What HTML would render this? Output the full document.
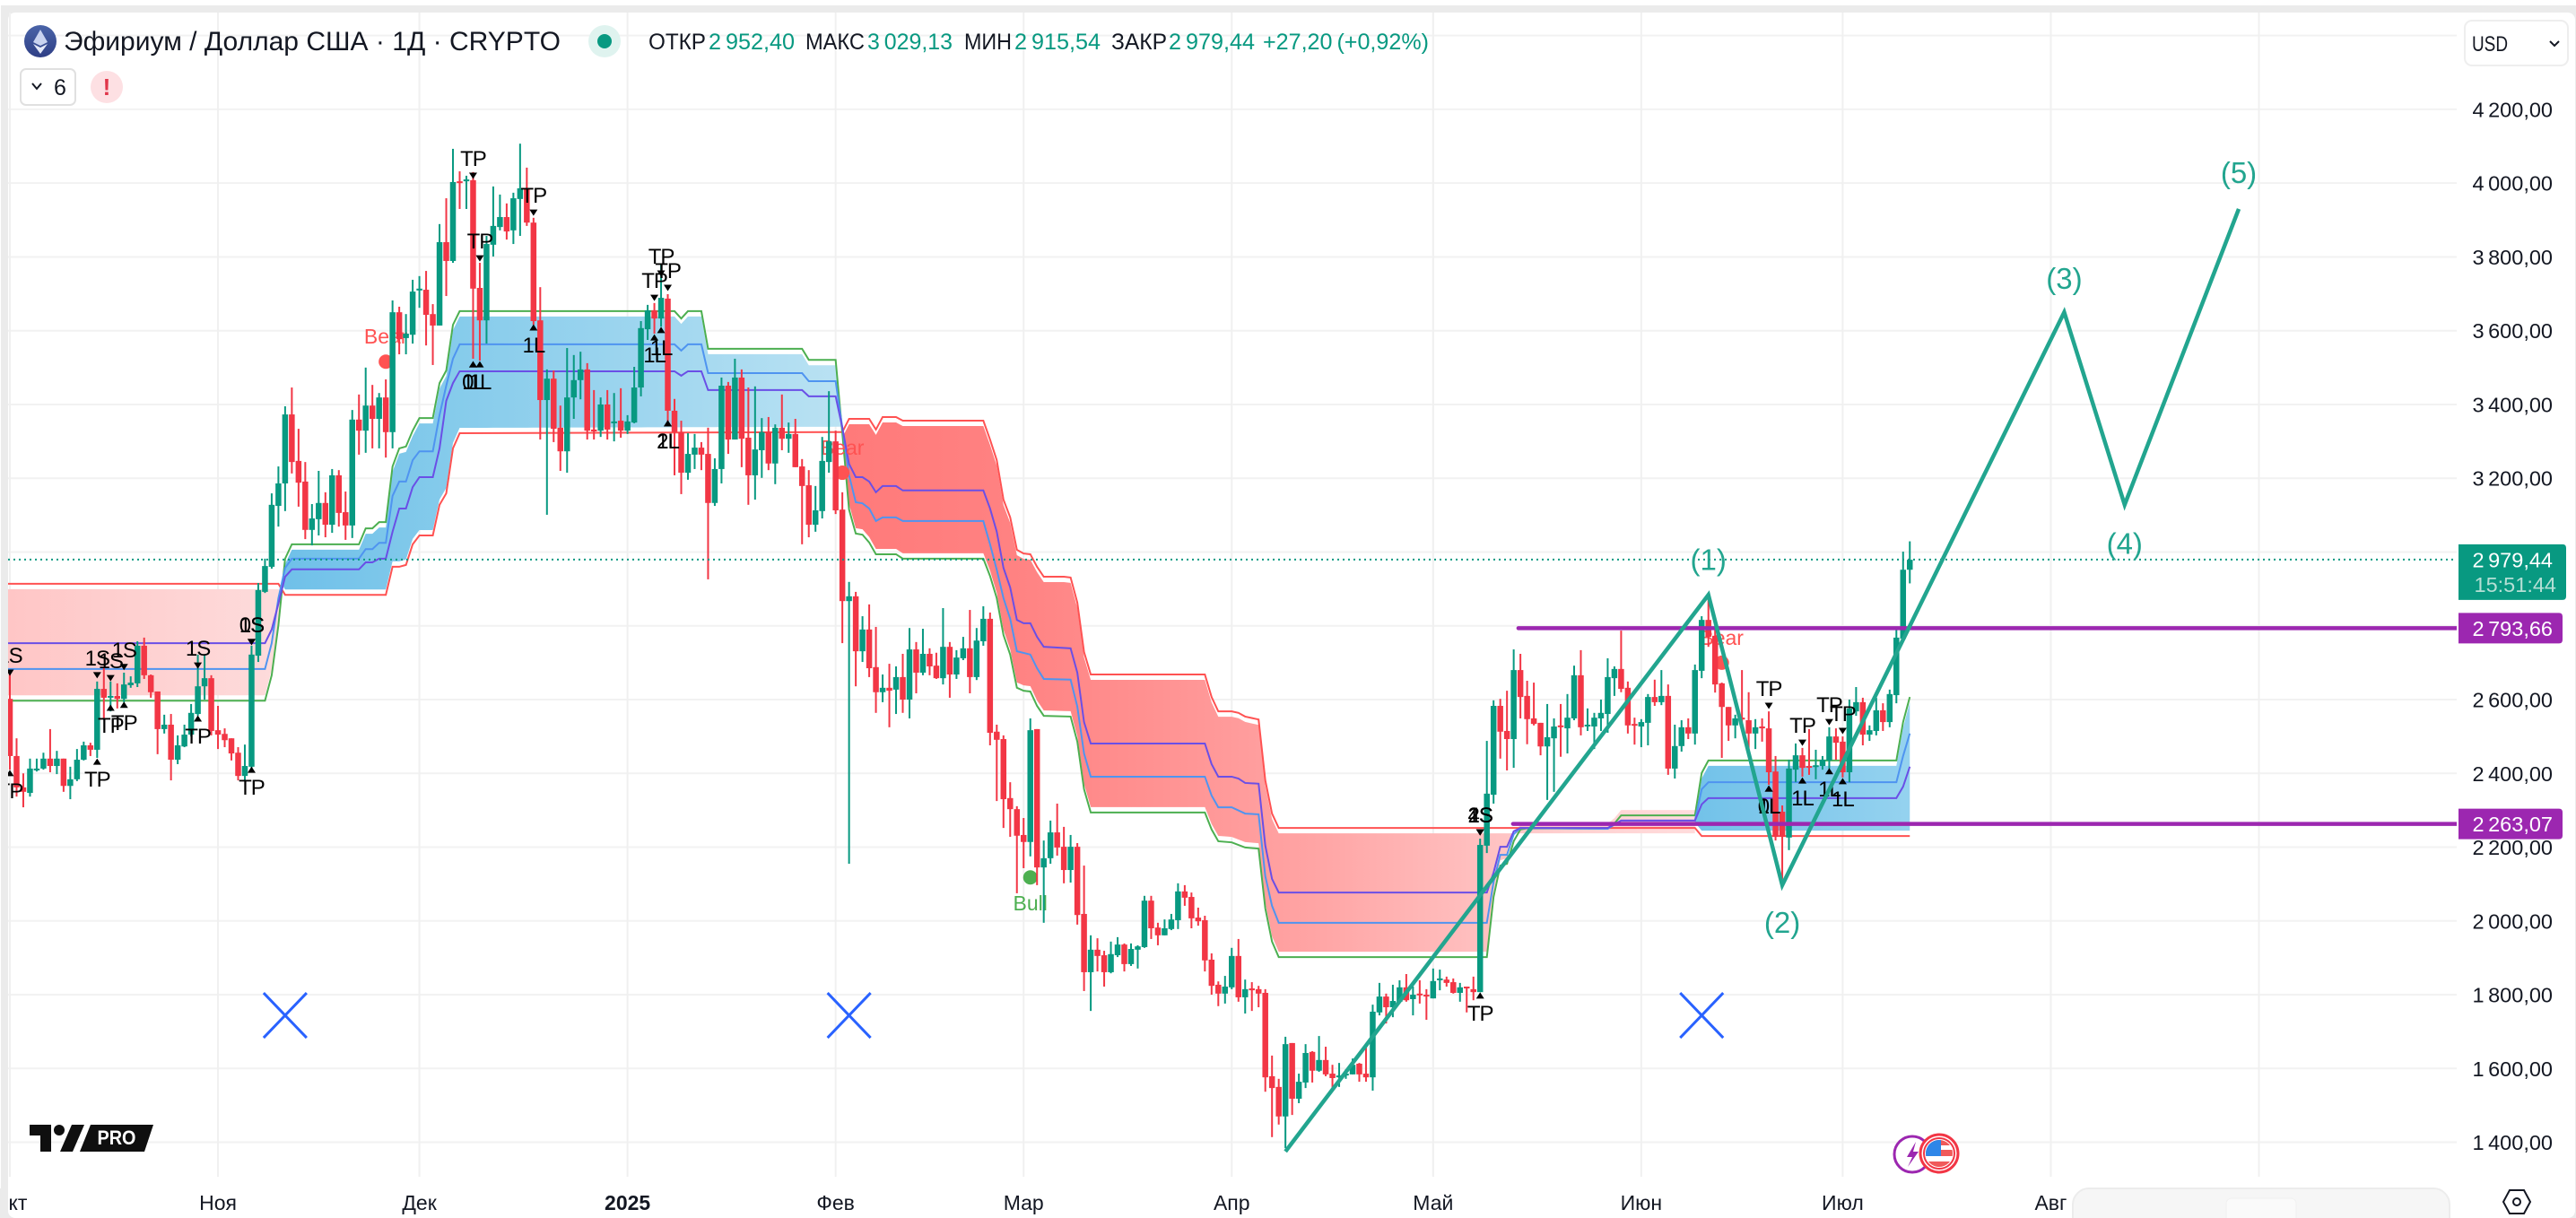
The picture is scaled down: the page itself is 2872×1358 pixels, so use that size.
<!DOCTYPE html>
<html lang="ru">
<head>
<meta charset="utf-8">
<title>Эфириум / Доллар США · 1Д · CRYPTO</title>
<style>
html,body{margin:0;padding:0;background:#fff;width:2872px;height:1358px;overflow:hidden}
svg{display:block;font-family:"Liberation Sans",sans-serif}
.tick{font-size:23.5px;fill:#131722;word-spacing:-2px;text-anchor:end}
.tag{font-size:23.5px;fill:#fff;word-spacing:-2px;text-anchor:end}
.mon{font-size:23px;fill:#131722;text-anchor:middle}
.sig{font-size:24px;fill:#000;text-anchor:middle;letter-spacing:-1px}
.wave{font-size:33px;fill:#22a58f;text-anchor:middle}
.head{font-size:25px;fill:#131722}
.val{font-size:25px;fill:#089981;word-spacing:-2px}
</style>
</head>
<body>
<svg id="chart" xmlns="http://www.w3.org/2000/svg" width="2872" height="1358" viewBox="0 0 2872 1358">
<defs>
<clipPath id="plotClip"><rect x="9" y="14" width="2730" height="1298"/></clipPath>
<clipPath id="flagClip"><circle cx="2162" cy="1286" r="15"/></clipPath>
<linearGradient id="gBear1" gradientUnits="userSpaceOnUse" x1="9" x2="316" y1="0" y2="0"><stop offset="0" stop-color="#ffc6c6"/><stop offset="1" stop-color="#fddcdc"/></linearGradient>
<linearGradient id="gBull1" gradientUnits="userSpaceOnUse" x1="316" x2="940" y1="0" y2="0"><stop offset="0" stop-color="#6fc0e9"/><stop offset=".3" stop-color="#85cbeb"/><stop offset=".65" stop-color="#9fd6ef"/><stop offset="1" stop-color="#bae2f3"/></linearGradient>
<linearGradient id="gBear2" gradientUnits="userSpaceOnUse" x1="940" x2="1890" y1="0" y2="0"><stop offset="0" stop-color="#ff7a7a"/><stop offset=".2" stop-color="#ff8282"/><stop offset=".35" stop-color="#ff9090"/><stop offset=".55" stop-color="#ffa4a4"/><stop offset=".75" stop-color="#ffc0c0"/><stop offset=".85" stop-color="#ffd0d0"/><stop offset="1" stop-color="#ffdcdc"/></linearGradient>
<linearGradient id="gBull2" gradientUnits="userSpaceOnUse" x1="1890" x2="2130" y1="0" y2="0"><stop offset="0" stop-color="#72c2e9"/><stop offset="1" stop-color="#95d2ef"/></linearGradient>
<linearGradient id="gEth" x1="0" x2="0" y1="0" y2="1"><stop offset="0" stop-color="#4a64a8"/><stop offset="1" stop-color="#2f3f86"/></linearGradient>
</defs>

<rect x="1" y="6" width="2871" height="1352" fill="#ebebeb"/>
<rect x="9" y="14" width="2862" height="1344" rx="8" fill="#ffffff"/>

<g id="grid"></g>
<g id="yAxis"></g>
<g id="xAxis"></g>

<g clip-path="url(#plotClip)">
  <g id="fills"></g>
  <g id="bandLines"></g>
  <g id="signals"></g>
  <g id="candles"></g>
  <line id="lastLine" x1="9" x2="2736" stroke="#089981" stroke-width="2" stroke-dasharray="2 4"/>
  <g id="markers"></g>
  <g id="crosses"></g>
  <g id="levels"></g>
  <g id="wave"></g>
</g>

<!-- price tags -->
<g id="tags"></g>

<!-- legend -->
<g>
  <circle cx="45" cy="46" r="18" fill="url(#gEth)"/>
  <polygon points="45,33 37,47 45,51 53,47" fill="#c9d3f0"/>
  <polygon points="37,49 45,60 53,49 45,53" fill="#e4e9f8"/>
  <text x="71" y="56" font-size="30" fill="#131722" textLength="554" lengthAdjust="spacingAndGlyphs">Эфириум / Доллар США · 1Д · CRYPTO</text>
  <circle cx="674" cy="46" r="18" fill="#dff3ef"/>
  <circle cx="674" cy="46" r="8" fill="#089981"/>
  <text class="head" x="723" y="55" textLength="64" lengthAdjust="spacingAndGlyphs">ОТКР</text>
  <text class="val" x="790" y="55" textLength="96" lengthAdjust="spacingAndGlyphs">2 952,40</text>
  <text class="head" x="898" y="55" textLength="66" lengthAdjust="spacingAndGlyphs">МАКС</text>
  <text class="val" x="967" y="55" textLength="95" lengthAdjust="spacingAndGlyphs">3 029,13</text>
  <text class="head" x="1075" y="55" textLength="53" lengthAdjust="spacingAndGlyphs">МИН</text>
  <text class="val" x="1131" y="55" textLength="96" lengthAdjust="spacingAndGlyphs">2 915,54</text>
  <text class="head" x="1239" y="55" textLength="62" lengthAdjust="spacingAndGlyphs">ЗАКР</text>
  <text class="val" x="1303" y="55" textLength="96" lengthAdjust="spacingAndGlyphs">2 979,44</text>
  <text class="val" x="1408" y="55" textLength="185" lengthAdjust="spacingAndGlyphs">+27,20 (+0,92%)</text>
</g>

<g>
  <rect x="23" y="77" width="61" height="40" rx="6" fill="#fff" stroke="#e0e0e0" stroke-width="2"/>
  <path d="M36 93l5 6 5-6" fill="none" stroke="#131722" stroke-width="2"/>
  <text x="67" y="106" font-size="25" fill="#131722" text-anchor="middle">6</text>
</g>
<g>
  <circle cx="119" cy="97" r="18" fill="#fde0e3"/>
  <text x="119" y="106" font-size="26" font-weight="bold" fill="#e0364a" text-anchor="middle">!</text>
</g>

<g>
  <rect x="2748" y="23" width="115" height="50" rx="8" fill="#fff" stroke="#eeeeee" stroke-width="2"/>
  <text x="2756" y="57" font-size="24" fill="#131722" textLength="40" lengthAdjust="spacingAndGlyphs">USD</text>
  <path d="M2843 46l5 5 5-5" fill="none" stroke="#131722" stroke-width="2"/>
</g>

<!-- TradingView logo -->
<g fill="#0f0f0f">
  <path d="M33 1254h24v30h-12v-18h-12z"/>
  <circle cx="66" cy="1260" r="6"/>
  <polygon points="80,1254 94,1254 81,1284 67,1284"/>
  <polygon points="101,1254 171,1254 161,1284 89,1284"/>
  <text x="130" y="1276" font-size="22" font-weight="bold" fill="#fff" text-anchor="middle" textLength="43" lengthAdjust="spacingAndGlyphs">PRO</text>
</g>

<!-- event icons -->
<g>
  <circle cx="2132" cy="1287" r="20" fill="#fff" stroke="#9c27b0" stroke-width="3"/>
  <polygon points="2136,1273 2126,1290 2132,1290 2127,1301 2139,1284 2133,1284" fill="#9c27b0"/>
  <circle cx="2162" cy="1286" r="21" fill="#fff" stroke="#f23645" stroke-width="3"/>
  <circle cx="2162" cy="1286" r="17" fill="#fff" stroke="#f23645" stroke-width="2"/>
  <g clip-path="url(#flagClip)">
    <rect x="2147" y="1271" width="30" height="6" fill="#f05a5a"/>
    <rect x="2147" y="1282" width="30" height="7" fill="#f05a5a"/>
    <rect x="2147" y="1295" width="30" height="7" fill="#f05a5a"/>
    <rect x="2147" y="1271" width="17" height="18" fill="#2f86e8"/>
  </g>
</g>

<!-- floating widget -->
<g>
  <rect x="2311" y="1325" width="420" height="50" rx="18" fill="#f6f6f6" stroke="#ececec" stroke-width="2"/>
  <rect x="2482" y="1336" width="78" height="40" rx="6" fill="#fafafa" stroke="#f0f0f0"/>
</g>
<g>
  <polygon points="2798,1327 2814,1327 2821,1340 2814,1353 2798,1353 2791,1340" fill="none" stroke="#131722" stroke-width="2"/>
  <circle cx="2806" cy="1340" r="4" fill="none" stroke="#131722" stroke-width="2"/>
</g>

<script>
// ---- axis values ----
const gridPrices = [4400,4200,4000,3800,3600,3400,3200,3000,2800,2600,2400,2200,2000,1800,1600,1400];
const priceTickLabels = [4200,4000,3800,3600,3400,3200,3000,2800,2600,2400,2200,2000,1800,1600,1400];
const monthDays = [0,31,61,92,123,151,182,212,243,273,304,335];
const monthLabels = ['Окт','Ноя','Дек','2025','Фев','Мар','Апр','Май','Июн','Июл','Авг',''];

// ---- daily candles, day 0 = 1 Oct 2024 ----
const opens = [2602,2447,2362,2347,2408,2413,2440,2420,2440,2366,
2384,2437,2476,2464,2629,2607,2610,2602,2639,2644,
2746,2666,2622,2520,2532,2437,2473,2505,2561,2636,
2658,2517,2507,2495,2456,2393,2418,2719,2892,2960,
3125,3186,3373,3247,3191,3060,3089,3133,3074,3208,
3108,3072,3359,3329,3397,3361,3419,3325,3650,3580,
3589,3709,3711,3645,3614,3840,3789,4005,4005,4008,
3716,3628,3833,3881,3908,3872,3957,3986,3893,3628,
3412,3470,3337,3273,3419,3466,3495,3332,3329,3400,
3349,3356,3329,3351,3446,3604,3655,3633,3687,3383,
3325,3215,3264,3283,3266,3133,3225,3451,3305,3473,
3310,3208,3276,3325,3240,3337,3307,3320,3232,3181,
3074,3111,3244,3300,3115,2867,2880,2731,2790,2688,
2620,2632,2627,2661,2600,2736,2673,2724,2692,2658,
2743,2668,2712,2739,2661,2758,2819,2513,2493,2333,
2303,2233,2214,2520,2145,2170,2240,2201,2138,2201,
2019,1861,1922,1907,1861,1907,1936,1883,1922,1929,
2055,1982,1961,1978,2002,2080,2065,2009,2002,1895,
1827,1803,1820,1905,1793,1817,1815,1805,1579,1550,
1470,1669,1518,1562,1645,1594,1623,1586,1576,1581,
1584,1613,1586,1576,1752,1795,1766,1781,1820,1788,
1803,1800,1790,1841,1841,1834,1805,1822,1815,1807,
2204,2342,2583,2515,2493,2680,2610,2549,2537,2473,
2495,2530,2522,2549,2666,2530,2527,2549,2561,2658,
2683,2632,2534,2527,2537,2607,2593,2610,2413,2474,
2525,2508,2678,2816,2773,2644,2580,2530,2551,2544,
2508,2527,2522,2405,2296,2226,2410,2449,2420,2418,
2420,2435,2500,2486,2403,2568,2593,2505,2515,2571,
2539,2612,2765,2952];
const highs = [2678,2495,2400,2440,2440,2456,2520,2461,2440,2418,
2466,2486,2483,2649,2685,2649,2644,2673,2663,2758,
2768,2668,2622,2559,2561,2503,2532,2588,2722,2722,
2666,2583,2522,2495,2471,2478,2746,2916,2982,3159,
3232,3395,3446,3334,3244,3130,3220,3162,3225,3222,
3164,3385,3427,3500,3453,3431,3468,3682,3665,3645,
3738,3748,3762,3672,3889,3959,4093,4032,4020,4030,
3784,3857,3991,3969,3945,3974,4107,4042,3906,3718,
3495,3492,3397,3553,3534,3543,3512,3439,3419,3439,
3431,3444,3371,3502,3626,3670,3675,3779,3699,3415,
3356,3322,3320,3298,3337,3254,3473,3461,3524,3495,
3446,3449,3363,3366,3346,3427,3351,3361,3252,3222,
3179,3312,3436,3329,3162,2919,2892,2826,2858,2797,
2668,2697,2690,2724,2794,2756,2792,2739,2727,2848,
2756,2734,2770,2843,2794,2853,2836,2532,2503,2376,
2311,2279,2549,2520,2218,2272,2318,2255,2233,2211,
2150,1961,1953,1919,1944,1956,1939,1939,1934,2068,
2068,1995,2004,2019,2102,2097,2077,2036,2014,1912,
1836,1851,1927,1951,1841,1834,1824,1815,1635,1572,
1686,1669,1586,1666,1647,1688,1659,1610,1615,1598,
1627,1615,1657,1773,1832,1803,1827,1839,1856,1822,
1839,1815,1871,1868,1849,1844,1832,1822,1849,2223,
2488,2598,2602,2624,2736,2724,2651,2646,2537,2588,
2549,2588,2615,2692,2734,2576,2564,2600,2712,2690,
2787,2649,2551,2547,2615,2654,2680,2641,2532,2544,
2549,2695,2826,2884,2794,2646,2580,2559,2680,2620,
2547,2549,2568,2447,2313,2437,2481,2469,2520,2464,
2447,2525,2522,2500,2600,2634,2605,2530,2605,2590,
2627,2794,3001,3029];
const lows = [2410,2337,2308,2337,2405,2410,2403,2398,2350,2330,
2379,2435,2447,2442,2546,2568,2576,2593,2632,2634,
2656,2605,2452,2508,2381,2425,2471,2500,2556,2600,
2503,2466,2471,2435,2381,2381,2413,2702,2889,2955,
3069,3111,3213,3123,3035,3018,3045,3040,3052,3069,
3033,3038,3264,3269,3281,3281,3256,3281,3536,3536,
3565,3662,3560,3507,3614,3694,3784,3930,3930,3524,
3519,3565,3801,3872,3847,3835,3857,3884,3616,3305,
3101,3298,3220,3215,3361,3414,3305,3305,3312,3305,
3300,3310,3320,3349,3422,3575,3592,3611,3354,3208,
3157,3196,3225,3222,2926,3125,3186,3266,3305,3230,
3128,3142,3201,3222,3184,3276,3269,3230,3021,3040,
3055,3091,3215,3103,2753,2155,2636,2702,2661,2564,
2593,2525,2561,2564,2549,2617,2666,2666,2656,2641,
2605,2656,2707,2617,2653,2746,2476,2325,2252,2228,
2075,2143,2175,2097,1995,2155,2177,2102,2104,1990,
1810,1756,1863,1822,1858,1902,1863,1878,1871,1927,
1951,1934,1961,1975,1978,2041,1980,1987,1863,1800,
1769,1776,1815,1781,1749,1756,1766,1537,1414,1448,
1384,1474,1506,1547,1562,1591,1579,1537,1550,1572,
1584,1564,1564,1540,1744,1722,1739,1778,1781,1744,
1776,1732,1790,1812,1822,1803,1781,1752,1785,1807,
2184,2318,2440,2408,2415,2549,2479,2530,2449,2328,
2350,2445,2454,2544,2503,2515,2466,2515,2510,2610,
2620,2508,2478,2471,2476,2583,2585,2396,2386,2459,
2493,2478,2658,2743,2619,2442,2488,2495,2515,2454,
2466,2486,2369,2218,2114,2192,2376,2391,2396,2384,
2410,2413,2437,2389,2376,2556,2476,2488,2503,2515,
2525,2590,2763,2915];
const closes = [2447,2362,2350,2413,2413,2440,2420,2440,2366,2384,
2437,2476,2464,2629,2605,2610,2602,2641,2646,2746,
2666,2620,2520,2532,2437,2476,2505,2564,2636,2658,
2515,2505,2490,2454,2393,2420,2722,2897,2962,3128,
3186,3373,3244,3188,3060,3091,3133,3074,3208,3106,
3072,3359,3329,3397,3361,3419,3325,3650,3577,3592,
3706,3714,3643,3614,3840,3789,4003,4003,4010,3714,
3628,3835,3884,3908,3869,3959,3986,3893,3626,3412,
3470,3334,3273,3419,3466,3495,3329,3327,3400,3332,
3354,3329,3354,3446,3607,3655,3633,3689,3383,3325,
3215,3266,3283,3264,3133,3225,3451,3305,3473,3307,
3208,3278,3325,3240,3337,3307,3320,3230,3179,3074,
3113,3247,3300,3113,2867,2880,2731,2790,2685,2620,
2632,2624,2661,2600,2736,2673,2724,2690,2658,2743,
2668,2714,2739,2661,2760,2819,2510,2491,2330,2303,
2231,2214,2517,2145,2170,2240,2199,2138,2201,2016,
1861,1922,1905,1861,1910,1936,1883,1924,1931,2055,
1980,1961,1980,2004,2080,2063,2007,1999,1893,1824,
1803,1822,1905,1793,1815,1812,1803,1576,1547,1470,
1666,1518,1564,1642,1594,1623,1584,1574,1581,1586,
1610,1584,1576,1754,1795,1766,1783,1820,1785,1800,
1800,1795,1837,1844,1832,1805,1820,1817,1807,2206,
2345,2583,2513,2493,2680,2607,2547,2534,2473,2498,
2527,2525,2551,2666,2525,2532,2551,2564,2661,2683,
2629,2530,2532,2539,2607,2593,2610,2413,2474,2525,
2508,2680,2816,2770,2641,2580,2530,2549,2546,2508,
2525,2522,2403,2228,2228,2413,2449,2415,2418,2422,
2437,2500,2483,2403,2576,2593,2505,2517,2571,2539,
2615,2768,2952,2979];
const lastPrice = 2979.44;

// ---- trend band breakpoints as [day, price] ----
const bandGreen = [[-1,2597],[38,2597],[39,2666],[40,2802],[41,2982],[42,3021],[52,3021],[53,3064],[54,3064],[55,3081],[56,3081],[57,3232],[58,3281],[59,3286],[60,3329],[61,3363],[63,3363],[64,3458],[65,3492],[66,3616],[67,3653],[99,3653],[100,3633],[101,3653],[103,3653],[104,3551],[118,3551],[119,3521],[123,3521],[124,3322],[125,3115],[126,3050],[127,3047],[128,3026],[129,2994],[132,2994],[133,2982],[145,2982],[146,2935],[147,2875],[148,2775],[149,2722],[150,2632],[151,2624],[152,2622],[153,2583],[154,2556],[158,2554],[159,2486],[160,2357],[161,2294],[178,2294],[179,2248],[180,2216],[182,2213],[184,2199],[186,2196],[187,2034],[188,1944],[189,1902],[220,1902],[221,2065],[222,2150],[223,2155],[224,2216],[225,2248],[226,2251],[238,2250],[239,2264],[240,2286],[251,2286],[252,2401],[253,2435],[281,2435],[282,2539],[283,2607]];
const bandRed = [[-1,2914],[40,2914],[41,2884],[56,2884],[57,2960],[58,2960],[59,2965],[60,3021],[61,3045],[63,3045],[64,3128],[65,3159],[66,3281],[67,3322],[123,3325],[124,3325],[125,3361],[128,3361],[129,3332],[130,3366],[132,3366],[133,3356],[145,3356],[146,3305],[147,3249],[148,3142],[149,3094],[150,3006],[151,2996],[152,2994],[153,2960],[154,2933],[157,2933],[158,2931],[159,2863],[160,2729],[161,2668],[178,2668],[179,2607],[180,2568],[182,2568],[183,2564],[184,2554],[186,2546],[187,2381],[188,2291],[189,2252],[251,2252],[252,2230],[283,2230]];
const bandBlue = [[-1,2683],[38,2683],[39,2753],[40,2875],[41,2957],[42,2982],[52,2982],[53,3008],[54,3008],[55,3025],[56,3025],[57,3152],[58,3191],[59,3191],[60,3249],[61,3273],[63,3273],[64,3371],[65,3451],[66,3524],[67,3563],[99,3563],[100,3546],[101,3563],[103,3563],[104,3485],[118,3485],[119,3463],[123,3463],[124,3337],[125,3208],[126,3135],[127,3132],[128,3118],[129,3084],[130,3094],[132,3094],[133,3084],[145,3084],[146,3021],[147,2952],[148,2875],[149,2819],[150,2731],[152,2722],[153,2685],[154,2656],[158,2654],[159,2581],[160,2454],[161,2391],[178,2391],[179,2340],[180,2308],[182,2308],[184,2291],[186,2289],[187,2121],[188,2041],[189,1995],[220,1995],[221,2106],[222,2179],[223,2179],[224,2235],[225,2252],[238,2250],[240,2272],[251,2272],[252,2357],[253,2376],[281,2376],[282,2447],[283,2508]];
const bandPurple = [[-1,2753],[38,2753],[39,2790],[40,2860],[41,2933],[42,2953],[52,2953],[53,2972],[54,2972],[55,2982],[56,2982],[57,3055],[58,3118],[59,3118],[60,3176],[61,3203],[63,3203],[64,3281],[65,3410],[66,3458],[67,3490],[99,3490],[100,3478],[101,3490],[103,3490],[104,3439],[118,3439],[119,3422],[123,3422],[124,3337],[125,3239],[126,3203],[127,3203],[128,3191],[129,3162],[130,3179],[132,3179],[133,3167],[145,3167],[146,3118],[147,3055],[148,2957],[149,2904],[150,2816],[151,2807],[152,2807],[153,2770],[154,2743],[158,2739],[159,2673],[160,2539],[161,2481],[178,2481],[179,2425],[180,2391],[182,2391],[183,2386],[184,2374],[186,2372],[187,2204],[188,2114],[189,2077],[220,2077],[221,2131],[222,2201],[223,2201],[224,2243],[225,2252],[238,2252],[240,2272],[251,2272],[252,2316],[253,2333],[281,2333],[282,2364],[283,2418]];
const zoneStartDays = [-1,40.5,124,251];
const zoneEndDays = [40.5,124,251,283];
const zoneKinds = ['bear','bull','bear','bull'];
const zoneFills = ['url(#gBear1)','url(#gBull1)','url(#gBear2)','url(#gBull2)'];

// ---- trend-change signals ----
const signalDays = [56,124,255,152];
const signalPrices = [3516,3215,2700,2118];
const signalTexts = ['Bear','Bear','Bear','Bull'];

// ---- take-profit / stop markers ----
const topDays = [69,70,78,97,96,98,0,13,15,17,28,36,36,219,219,219,262,267,271,273];
const topPrices = [4020,3796,3920,3755,3689,3716,2673,2666,2658,2688,2692,2756,2756,2240,2240,2240,2583,2483,2539,2515];
const topTexts = ['TP','TP','TP','TP','TP','TP','1S','1S','1S','1S','1S','1S','0S','1S','2S','4S','TP','TP','TP','TP'];
const bottomDays = [69,69,70,78,96,97,98,98,0,13,15,17,28,36,219,262,262,267,271,273];
const bottomPrices = [3509,3509,3509,3609,3582,3602,3349,3349,2401,2432,2578,2586,2549,2410,1798,2359,2359,2381,2406,2379];
const bottomTexts = ['1L','0L','1L','1L','1L','1L','1L','2L','TP','TP','TP','TP','TP','TP','TP','1L','0L','1L','1L','1L'];

// ---- Elliott wave drawing ----
const waveDays = [190,253,264,306,315,332];
const wavePrices = [1375,2884,2097,3650,3128,3930];
const waveLabelDays = [253,264,306,315,332];
const waveLabelPrices = [2978,1995,3740,3022,4027];
const waveLabels = ['(1)','(2)','(3)','(4)','(5)'];

// ---- cross marks and levels ----
const crossDays = [41,125,252];
const crossPrices = [1744,1744,1744];
const levelPrices = [2793.66,2263.07];
const levelStartDays = [224.7,223.9];
const countdownText = '15:51:44';

// ---- scales ----
function xOf(day){ return 11 + 7.485 * day; }
function yOf(price){ return 780 + (2600 - price) * 0.4113; }
const NS = 'http://www.w3.org/2000/svg';
function make(tag, parent, attrs){
  const el = document.createElementNS(NS, tag);
  for (const k in attrs) el.setAttribute(k, attrs[k]);
  parent.appendChild(el);
  return el;
}
function fmt(v){
  const s = v.toFixed(2).replace('.', ',');
  return s.replace(/^(\d)(\d{3})/, '$1 $2');
}
function valueAt(points, day){
  for (let i = 1; i < points.length; i++){
    if (day <= points[i][0]){
      const a = points[i-1], b = points[i];
      return a[1] + (b[1]-a[1]) * (day-a[0]) / (b[0]-a[0]);
    }
  }
  return points[points.length-1][1];
}
const gridG = document.getElementById('grid');
const yAxisG = document.getElementById('yAxis');
const xAxisG = document.getElementById('xAxis');

// grid
gridPrices.forEach(function(p){
  const l = make('line', gridG, {x1:9, x2:2739, y1:yOf(p), y2:yOf(p), stroke:'#f2f2f2', 'stroke-width':2});
  
  
});
monthDays.forEach(function(d){
  const l = make('line', gridG, {x1:xOf(d), x2:xOf(d), y1:14, y2:1312, stroke:'#f0f0f0', 'stroke-width':2});
  
  
});

// axis labels
priceTickLabels.forEach(function(p){
  const t = make('text', yAxisG, {x:2846, y:yOf(p)+8.5, class:'tick'});
  t.textContent = fmt(p);
  
  
});
monthLabels.forEach(function(label, i){
  if (!label) return;
  const t = make('text', xAxisG, {x:Math.max(xOf(monthDays[i]),11), y:1349, class:'mon'});
  t.textContent = label;
  if (label === '2025') t.setAttribute('font-weight', 'bold');
  
  
});
// cover the part of the first month label that falls outside the panel
const leftMask = make('rect', xAxisG, {x:0, y:1325, width:9, height:33, fill:'#ebebeb'});



// band fills
const fillsG = document.getElementById('fills');
zoneKinds.forEach(function(kind, z){
  const a = zoneStartDays[z], b = zoneEndDays[z];
  const days = [a];
  for (let d = Math.floor(a)+1; d < b; d++) days.push(d);
  days.push(b);
  const first = [], second = [];
  days.forEach(function(d){
    const r = yOf(valueAt(bandRed, d)), g = yOf(valueAt(bandGreen, d));
    if (kind === 'bear'){ first.push(xOf(d)+','+(r+6)); second.unshift(xOf(d)+','+(g-6)); }
    else { first.push(xOf(d)+','+(g+6)); second.unshift(xOf(d)+','+(r-6)); }
  });
  const poly = make('polygon', fillsG, {points:first.concat(second).join(' '), fill:zoneFills[z]});
  
  
});

// band lines
const lineG = document.getElementById('bandLines');
function drawBand(points, color, name){
  const pts = points.map(function(p){ return xOf(p[0])+','+yOf(p[1]); }).join(' ');
  const pl = make('polyline', lineG, {points:pts, fill:'none', stroke:color, 'stroke-width':2});
  
  
}
drawBand(bandRed, '#ff5252', 'band-red-line');
drawBand(bandGreen, '#4caf50', 'band-green-line');
drawBand(bandBlue, '#4f94f0', 'band-blue-line');
drawBand(bandPurple, '#6a4fe6', 'band-purple-line');

// signals
const sigG = document.getElementById('signals');
signalTexts.forEach(function(txt, i){
  const color = txt === 'Bull' ? '#4caf50' : '#ff5252';
  const cx = xOf(signalDays[i]), cy = yOf(signalPrices[i]);
  const c = make('circle', sigG, {cx:cx, cy:cy, r:8, fill:color});
  
  
  const up = txt === 'Bull' ? 37 : -20;
  const t = make('text', sigG, {x:cx, y:cy+up, 'font-size':23, fill:color, 'text-anchor':'middle'});
  t.textContent = txt;
  
  
});

// candles
const candleG = document.getElementById('candles');
closes.forEach(function(c, i){
  const o = opens[i], h = highs[i], l = lows[i];
  const col = c >= o ? '#089981' : '#f23645';
  const x = xOf(i);
  const g = make('g', candleG, {});
  
  
  const yh = yOf(h), yl = yOf(l), yt = yOf(Math.max(o,c)), yb = yOf(Math.min(o,c));
  make('rect', g, {x:x-1, y:yh, width:2, height:Math.max(yl-yh,1), fill:col});
  make('rect', g, {x:x-3.25, y:yt, width:6.5, height:Math.max(yb-yt,2), fill:col});
});

// last price dotted line
const lastLine = document.getElementById('lastLine');
lastLine.setAttribute('y1', yOf(lastPrice));
lastLine.setAttribute('y2', yOf(lastPrice));

// markers
const markG = document.getElementById('markers');
function sigLabel(x, y, txt){
  const t = make('text', markG, {x:x, y:y, class:'sig'});
  t.textContent = txt;
  
  
}
topDays.forEach(function(d, i){
  const x = xOf(d), y = yOf(topPrices[i]);
  const tr = make('polygon', markG, {points:(x-4.5)+','+(y-3.5)+' '+(x+4.5)+','+(y-3.5)+' '+x+','+(y+3.5), fill:'#000'});
  
  
  sigLabel(x, y-11, topTexts[i]);
});
bottomDays.forEach(function(d, i){
  const x = xOf(d), y = yOf(bottomPrices[i]);
  const tr = make('polygon', markG, {points:(x-4.5)+','+(y+3.5)+' '+(x+4.5)+','+(y+3.5)+' '+x+','+(y-3.5), fill:'#000'});
  
  
  sigLabel(x, y+28, bottomTexts[i]);
});

// cross marks
const crossG = document.getElementById('crosses');
crossDays.forEach(function(d, i){
  const x = xOf(d), y = yOf(crossPrices[i]);
  const p = make('path', crossG, {d:'M'+(x-24)+' '+(y-25)+'L'+(x+24)+' '+(y+25)+'M'+(x+24)+' '+(y-25)+'L'+(x-24)+' '+(y+25), stroke:'#2962ff', 'stroke-width':3, fill:'none'});
  
  
});

// levels
const levelG = document.getElementById('levels');
levelPrices.forEach(function(p, i){
  const l = make('line', levelG, {x1:xOf(levelStartDays[i]), x2:2745, y1:yOf(p), y2:yOf(p), stroke:'#9c27b0', 'stroke-width':4.5, 'stroke-linecap':'round'});
  
  
});

// wave
const waveG = document.getElementById('wave');
const wavePts = waveDays.map(function(d, i){ return xOf(d)+','+yOf(wavePrices[i]); }).join(' ');
const wl = make('polyline', waveG, {points:wavePts, fill:'none', stroke:'#22a58f', 'stroke-width':4.5, 'stroke-linejoin':'miter'});


waveLabels.forEach(function(txt, i){
  const t = make('text', waveG, {x:xOf(waveLabelDays[i]), y:yOf(waveLabelPrices[i])+11, class:'wave'});
  t.textContent = txt;
  
  
});

// price tags
const tagG = document.getElementById('tags');
levelPrices.forEach(function(p){
  const y = yOf(p);
  const r = make('path', tagG, {d:'M2741 '+(y-17)+'H2853q4 0 4 4V'+(y+13)+'q0 4-4 4H2741z', fill:'#9c27b0'});
  
  
  const t = make('text', tagG, {x:2846, y:y+8.5, class:'tag'});
  t.textContent = fmt(p);
  
  
});
const ly = yOf(lastPrice);
const lastBox = make('path', tagG, {d:'M2741 '+(ly-17)+'H2857q4 0 4 4V'+(ly+41)+'q0 4-4 4H2741z', fill:'#089981'});


const lastT = make('text', tagG, {x:2846, y:ly+8.5, class:'tag'});
lastT.textContent = fmt(lastPrice);


const cdT = make('text', tagG, {x:2850, y:ly+36, class:'tag', style:'fill:#b5dfd5'});
cdT.textContent = countdownText;


</script>
</svg>
</body>
</html>
